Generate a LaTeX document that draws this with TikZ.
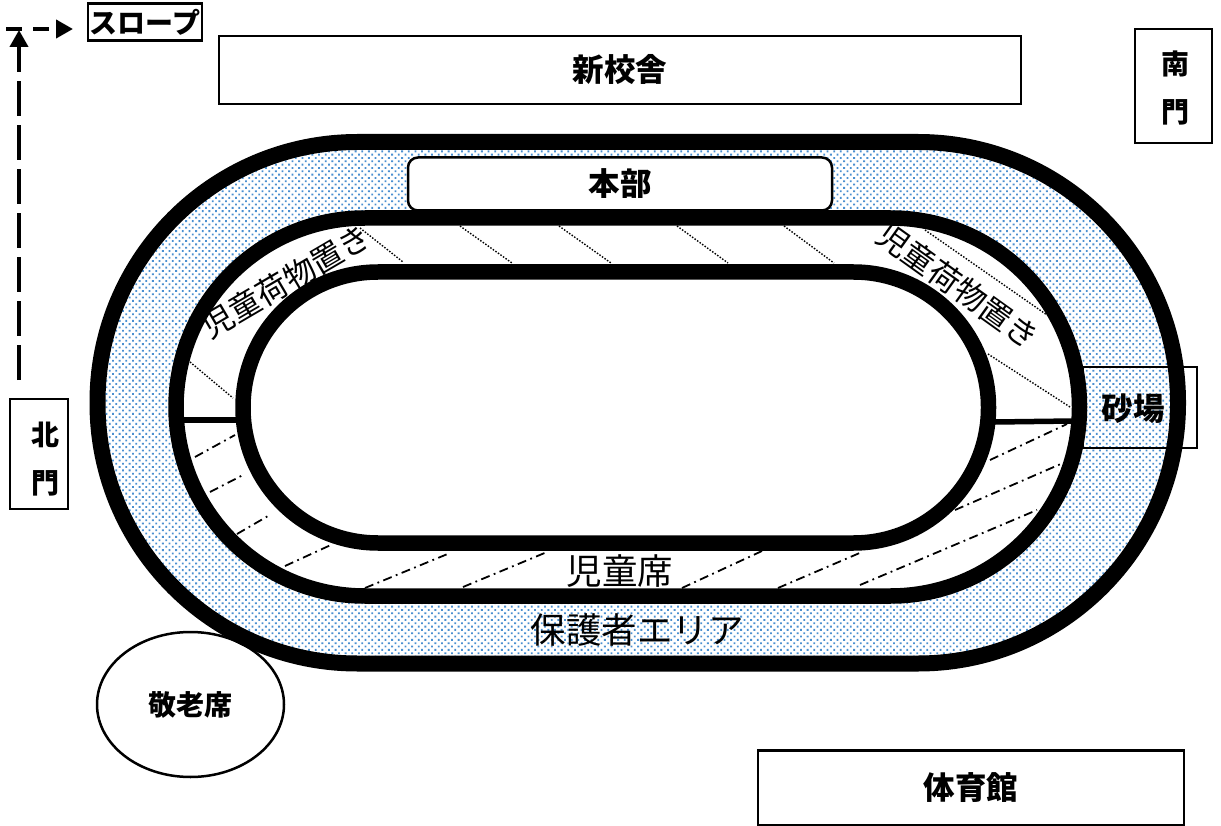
\documentclass[tikz,border=0pt]{standalone}
\usepackage{fontspec}
\usepackage{xcolor}
\usepackage{tikz}
\usetikzlibrary{arrows.meta,shapes,positioning,patterns.meta}
\newfontfamily\jpfont{Noto Sans CJK JP}
\definecolor{dotblue}{HTML}{4A8FD0}
\tikzset{
    every node/.style={font=\jpfont},
    track/.style={draw=black, line width=15.5pt},
    dotarea/.style={pattern={Dots[distance=4.7pt, radius=1.3pt, angle=45]}, pattern color=dotblue},
    blockbox/.style={draw=black, line width=2.5pt, fill=white, rectangle, inner sep=0pt},
    boldlabel/.style={font=\jpfont\bfseries\fontsize{31.5}{48}\selectfont, align=center},
    smalllabel/.style={font=\jpfont\bfseries\fontsize{28}{48}\selectfont, align=center},
    thinlabel/.style={font=\jpfont\fontsize{35.5}{36}\selectfont},
    baglabel/.style={font=\jpfont\fontsize{31.5}{32}\selectfont},
    dottedline/.style={line width=1.4pt, dash pattern=on 1.5pt off 1.6pt},
    dashdotline/.style={line width=1.8pt, dash pattern=on 9pt off 4.5pt on 1.8pt off 4.5pt},
    routeline/.style={line width=4pt, -{Triangle[length=17pt, width=18pt]}},
}
\begin{document}
\begin{tikzpicture}[x=1pt, y=-1pt]
    \useasboundingbox (0,0) rectangle (1221,826);

    % Route to the slope
    \coordinate (routestart) at (19,380);
    \coordinate (routetop) at (19,30);
    \coordinate (routebend) at (6,29);
    \coordinate (routeend) at (73,29);
    \draw[routeline, dash pattern=on 35pt off 9pt] (routestart) -- (routetop);
    \draw[routeline, dash pattern=on 16pt off 11pt] (routebend) -- (routeend);
    \node[blockbox, minimum width=114pt, minimum height=37pt, smalllabel] (slope) at (145,22) {スロープ};

    % Buildings and gates
    \node[blockbox, minimum width=802pt, minimum height=68pt, boldlabel] (newschool) at (620,70) {新校舎};
    \node[blockbox, minimum width=77pt, minimum height=114pt] (southgate) at (1173.5,86) {};
    \node[smalllabel] (southlabel) at (1175,88) {南\\門};
    \node[blockbox, minimum width=58pt, minimum height=110pt] (northgate) at (39,454) {};
    \node[smalllabel] (northlabel) at (45,459) {北\\門};
    \node[blockbox, minimum width=426pt, minimum height=75pt, boldlabel] (gym) at (971,788) {体育館};

    % Seats for the elderly
    \node[draw=black, line width=2.5pt, fill=white, ellipse, minimum width=187pt, minimum height=145pt, inner sep=0pt, smalllabel] (elderly) at (190.5,704.5) {敬老席};

    % Guardian area
    \fill[dotarea] (97.5,142) [rounded corners=260pt] rectangle (1178,663.5);

    % Sand pit
    \draw[line width=1.8pt] (1083,367) rectangle (1197,448);

    % Children's area
    \fill[white] (176,218) [rounded corners=189pt] rectangle (1079.5,596);
    \node[baglabel, rotate=30.4] (bagsleft) at (286,281) {児童荷物置き};
    \node[baglabel, rotate=-35.6] (bagsright) at (958,286) {児童荷物置き};

    % Luggage lines
    \foreach \xa/\ya/\xb/\yb in {190/362/233/398, 360/228/403/262, 460/226/512/263, 559/226/611/263,
                                 677/226/728/263, 784/226/834/263, 925/230/1047/315, 988/354/1070/407} {
        \draw[dottedline] (\xa,\ya) -- (\xb,\yb);
    }

    % Seat lines
    \foreach \xa/\ya/\xb/\yb in {195/457/235/435, 210/492/245/474, 237/534/268/516, 285/566/333/544,
                                 365/588/450/553, 463/587/547/552, 682/588/762/551, 778/588/862/552,
                                 860/585/1037/510, 955/510/1063/463, 990/460/1067/424} {
        \draw[dashdotline] (\xa,\ya) -- (\xb,\yb);
    }

    % Track rings
    \draw[track, line width=16pt] (97.5,142) [rounded corners=260pt] rectangle (1178,663.5);
    \draw[track] (176,218) [rounded corners=189pt] rectangle (1079.5,596);
    \draw[track, fill=white] (243,272) [rounded corners=135pt] rectangle (988.5,543);

    % Dividers
    \draw[line width=5.5pt] (183,420) -- (237,420);
    \draw[line width=5.5pt] (995,422) -- (1073,421);

    % Headquarters
    \node[draw=black, line width=2.5pt, fill=white, rectangle, rounded corners=10pt, minimum width=424pt, minimum height=53pt, inner sep=0pt, boldlabel] (headquarters) at (620,184) {\raisebox{-2pt}{本部}};

    % Area labels
    \node[boldlabel] (sandpit) at (1133,409) {砂場};
    \node[thinlabel] (childseats) at (620,571) {児童席};
    \node[thinlabel] (guardians) at (637,630) {保護者エリア};
\end{tikzpicture}
\end{document}
